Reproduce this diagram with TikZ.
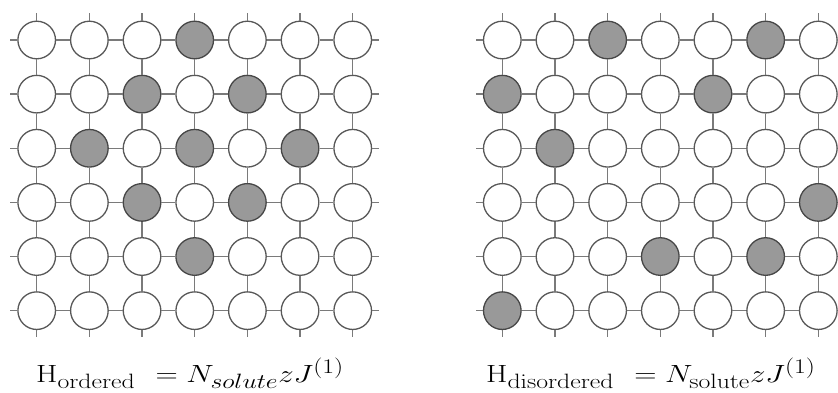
\documentclass[tikz,border=0pt]{standalone}
\definecolor{sitestroke}{HTML}{585858}
\definecolor{solutestroke}{HTML}{474747}
\definecolor{solutefill}{HTML}{999999}
\definecolor{bondgray}{HTML}{7A7A7A}
\tikzset{
  site/.style={circle, draw=sitestroke, line width=1.3pt, fill=white, inner sep=0pt, minimum size=37.6pt},
  solute/.style={fill=solutefill, draw=solutestroke},
  bond/.style={draw=bondgray, line width=1.5pt},
  eqn/.style={anchor=base west, inner sep=0pt, font=\fontsize{31}{37}\selectfont},
  % ordered arrangement
  L03/.style={solute}, L12/.style={solute}, L14/.style={solute},
  L21/.style={solute}, L23/.style={solute}, L25/.style={solute},
  L32/.style={solute}, L34/.style={solute}, L43/.style={solute},
  % disordered arrangement
  R02/.style={solute}, R05/.style={solute}, R10/.style={solute},
  R14/.style={solute}, R21/.style={solute}, R36/.style={solute},
  R43/.style={solute}, R45/.style={solute}, R50/.style={solute},
}
\begin{document}
\begin{tikzpicture}[x=1pt,y=-1pt]
\useasboundingbox (0,0) rectangle (838,392);
\foreach \G/\xo/\yl/\xr in {L/36.7/10/379, R/502.3/476.3/860}{
  % sites
  \foreach \r in {0,...,5}{
    \foreach \c in {0,...,6}{
      \node[site, \G\r\c/.try] (\G-\r-\c) at ({\xo+52.67*\c},{40+54.13*\r}) {};
    }
  }
  % horizontal bonds
  \foreach \r in {0,...,5}{
    \foreach \c in {0,...,5}{
      \pgfmathtruncatemacro{\n}{\c+1}
      \draw[bond] (\G-\r-\c) -- (\G-\r-\n);
    }
    \coordinate (\G-W\r) at (\yl,{40+54.13*\r});
    \coordinate (\G-E\r) at (\xr,{40+54.13*\r});
    \draw[bond] (\G-W\r) -- (\G-\r-0);
    \draw[bond] (\G-\r-6) -- (\G-E\r);
  }
  % vertical bonds
  \foreach \c in {0,...,6}{
    \foreach \r in {0,...,4}{
      \pgfmathtruncatemacro{\n}{\r+1}
      \draw[bond] (\G-\r-\c) -- (\G-\n-\c);
    }
    \coordinate (\G-N\c) at ({\xo+52.67*\c},13.3);
    \coordinate (\G-S\c) at ({\xo+52.67*\c},337);
    \draw[bond] (\G-N\c) -- (\G-0-\c);
    \draw[bond] (\G-5-\c) -- (\G-S\c);
  }
}
\node[eqn] (eqL) at (36,382.7) {\scalebox{1.24}[1]{$\mathrm{H}_{\mathrm{ordered}}\ = N_{solute}zJ^{(1)}$}};
\node[eqn] (eqR) at (486,382.7) {\scalebox{1.24}[1]{$\mathrm{H}_{\mathrm{disordered}}\ = N_{\mathrm{solute}}zJ^{(1)}$}};
\end{tikzpicture}
\end{document}
